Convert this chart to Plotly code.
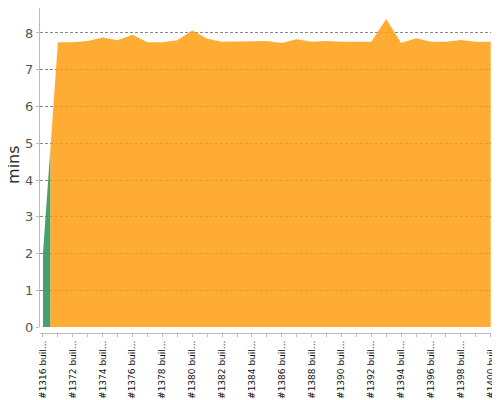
import plotly.graph_objects as go

# ---- data ----
builds = ["#1316", "#1371", "#1372", "#1373", "#1374", "#1375", "#1376", "#1377",
          "#1378", "#1379", "#1380", "#1381", "#1382", "#1383", "#1384", "#1385",
          "#1386", "#1387", "#1388", "#1389", "#1390", "#1391", "#1392", "#1393",
          "#1394", "#1395", "#1396", "#1397", "#1398", "#1399", "#1400"]
durations = [2.0, 7.75, 7.75, 7.78, 7.88, 7.8, 7.95, 7.75, 7.75, 7.8, 8.07,
             7.84, 7.76, 7.76, 7.76, 7.78, 7.73, 7.83, 7.76, 7.78, 7.76, 7.76,
             7.76, 8.38, 7.73, 7.86, 7.76, 7.76, 7.81, 7.76, 7.76]
status = ["success"] + ["unstable"] * 30
tick_labels = [b + " buil..." if i % 2 == 0 else "" for i, b in enumerate(builds)]
y_title = "mins"
colors = {"success": "rgba(52,150,96,0.9)", "unstable": "rgba(255,158,16,0.85)"}

n = len(durations)
idx = list(range(n))

# group consecutive builds with the same status; each build colours the area
# up to half-way to its neighbours
runs = []
start = 0
for i in range(1, n + 1):
    if i == n or status[i] != status[start]:
        runs.append((start, i - 1))
        start = i

fig = go.Figure()
for a, b in runs:
    xs, ys = [], []
    if a > 0:
        xs.append(a - 0.5)
        ys.append((durations[a - 1] + durations[a]) / 2)
    xs += idx[a:b + 1]
    ys += durations[a:b + 1]
    if b < n - 1:
        xs.append(b + 0.5)
        ys.append((durations[b] + durations[b + 1]) / 2)
    fig.add_trace(go.Scatter(
        x=xs, y=ys, mode="lines", fill="tozeroy",
        line=dict(width=0, color=colors[status[a]]),
        fillcolor=colors[status[a]], hoverinfo="skip", showlegend=False))

# page body has an 8px default margin, so the figure is 492x392
fig.update_layout(
    width=492, height=392,
    margin=dict(l=32, r=9, t=0, b=67, autoexpand=False),
    plot_bgcolor="white", paper_bgcolor="white",
    font=dict(family="DejaVu Sans", color="#555"),
    xaxis=dict(
        range=[-0.2, 30.02], domain=[0, 1], automargin=False,
        anchor="free", position=0,
        tickmode="array", tickvals=idx, ticktext=tick_labels,
        tickangle=-90, tickfont=dict(size=9, color="#111"),
        ticklabeloverflow="allow",
        showgrid=False, zeroline=False,
        showline=True, linecolor="#bbb", linewidth=1,
        ticks="outside", ticklen=3, tickcolor="#bbb",
    ),
    yaxis=dict(
        range=[0, 8.68], domain=[6 / 325, 1], automargin=False,
        tickvals=[0, 1, 2, 3, 4, 5, 6, 7, 8],
        tickfont=dict(size=13, color="#555"),
        showgrid=True, gridcolor="#888", griddash="3px,2px", gridwidth=1,
        zeroline=False,
        showline=True, linecolor="#bbb", linewidth=1,
        ticks="outside", ticklen=3, tickcolor="#bbb",
    ),
    annotations=[dict(
        text=y_title, textangle=-90, showarrow=False,
        xref="paper", yref="paper", x=-0.06, y=0.52,
        xanchor="center", yanchor="middle",
        font=dict(size=16, color="#333"),
    )],
)

fig.write_html("out.html")
